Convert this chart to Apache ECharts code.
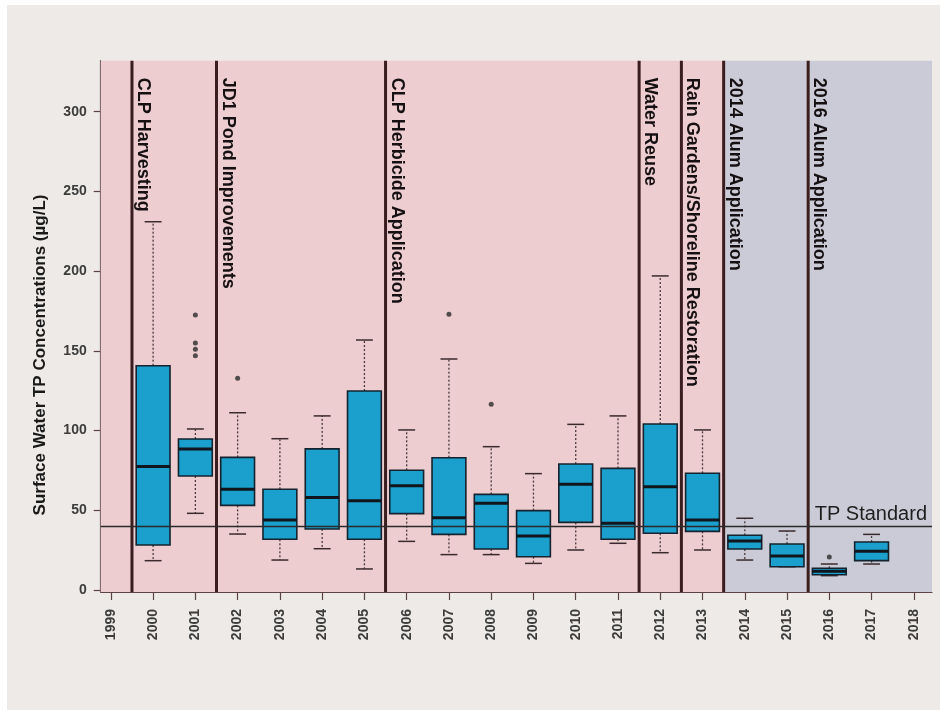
<!DOCTYPE html>
<html>
<head>
<meta charset="utf-8">
<script src="https://cdn.jsdelivr.net/npm/echarts@6/dist/echarts.min.js"></script>
<style>
html,body{margin:0;padding:0;background:#ffffff;}
#chart{width:940px;height:710px;}
</style>
</head>
<body>
<div id="chart"></div>
<script>
// ---- data ----
const tickYears = [1999,2000,2001,2002,2003,2004,2005,2006,2007,2008,2009,2010,2011,2012,2013,2014,2015,2016,2017,2018];
const yTicks = [0,50,100,150,200,250,300];
const boxYears   = [2000,2001,2002,2003,2004,2005,2006,2007,2008,2009,2010,2011,2012,2013,2014,2015,2016,2017];
const whiskerLow = [18.4,48.1,35.1,18.8,25.9,13.2,30.5,22.2,22.2,16.7,25.1,29.3,23.4,25.1,18.8,14.6,9.0,16.3];
const quart1     = [28.2,71.5,53.1,31.8,38.3,31.8,47.9,34.9,25.7,20.9,42.4,31.8,35.6,36.8,25.7,14.6,9.6,18.4];
const medians    = [77.4,88.5,63.2,43.9,58.1,56.0,65.4,45.4,54.4,33.9,66.3,41.8,64.8,43.9,30.7,21.3,11.7,24.3];
const quart3     = [140.7,94.7,83.2,63.2,88.5,124.8,75.1,83.0,60.0,49.8,79.0,76.3,104.1,73.2,34.3,28.9,13.6,30.1];
const whiskerHigh= [231,101,111.2,94.9,109.2,156.8,100.4,144.9,89.9,73.0,103.9,109.2,197,100.4,45.0,37.0,16.3,34.9];
const outlierYears = [2001,2001,2001,2001,2002,2007,2008,2016];
const outlierValues = [172.5,155,151,147,132.8,173,116.5,20.7];
const eventX = [1999.5,2001.5,2005.5,2011.5,2012.5,2013.5,2015.5];
const eventLabels = ['CLP Harvesting','JD1 Pond Improvements','CLP Herbicide Application','Water Reuse','Rain Gardens/Shoreline Restoration','2014 Alum Application','2016 Alum Application'];
const tpStandard = 40;
const phaseBreak = 2013.5;

// ---- axis extents ----
const X_MIN = 1998.76, X_MAX = 2018.43;
const Y_MIN = -1.25, Y_MAX = 332;

const FONT = '"Liberation Sans", Arial, sans-serif';
const shadeColors = ['#edcdd0', '#cacbd6'];

const boxData = boxYears.map((y,i)=>[y, whiskerLow[i], quart1[i], medians[i], quart3[i], whiskerHigh[i]]);
const outlierData = outlierYears.map((y,i)=>[y, outlierValues[i]]);
const eventData = eventX.map((x,i)=>[x, i]);
const shadeData = [[X_MIN, phaseBreak, 0],[phaseBreak, X_MAX, 1]];

function renderShade(params, api){
  const a = api.coord([api.value(0), Y_MAX]);
  const b = api.coord([api.value(1), Y_MIN]);
  return {type:'rect', shape:{x:a[0], y:a[1], width:b[0]-a[0], height:b[1]-a[1]},
    style:{fill: shadeColors[api.value(2)]}};
}

function renderEvent(params, api){
  const x = api.value(0);
  const t = api.coord([x, Y_MAX]);
  const b = api.coord([x, Y_MIN]);
  return {type:'group', children:[
    {type:'line', shape:{x1:t[0], y1:t[1], x2:b[0], y2:b[1]}, style:{stroke:'#3a1d1f', lineWidth:3}},
    {type:'text', x:t[0]+2, y:t[1]+17, rotation:-Math.PI/2,
      style:{text:eventLabels[api.value(1)], font:'bold 18px '+FONT, fill:'#161012', align:'left', verticalAlign:'bottom'}}
  ]};
}

function renderBox(params, api){
  const x = api.value(0);
  const lo = api.coord([x, api.value(1)]);
  const q1 = api.coord([x, api.value(2)]);
  const md = api.coord([x, api.value(3)]);
  const q3 = api.coord([x, api.value(4)]);
  const hi = api.coord([x, api.value(5)]);
  const band = api.size([1,0])[0];
  const hw = band*0.4, cw = band*0.2;
  const cx = q1[0];
  const whisk = {stroke:'#4a3a3c', lineWidth:1.3, lineDash:[2,2]};
  const cap = {stroke:'#3a2a2c', lineWidth:1.5};
  return {type:'group', children:[
    {type:'line', shape:{x1:cx, y1:q3[1], x2:cx, y2:hi[1]}, style:whisk},
    {type:'line', shape:{x1:cx, y1:q1[1], x2:cx, y2:lo[1]}, style:whisk},
    {type:'line', shape:{x1:cx-cw, y1:hi[1], x2:cx+cw, y2:hi[1]}, style:cap},
    {type:'line', shape:{x1:cx-cw, y1:lo[1], x2:cx+cw, y2:lo[1]}, style:cap},
    {type:'rect', shape:{x:cx-hw, y:q3[1], width:hw*2, height:q1[1]-q3[1]},
      style:{fill:'#1b9fcc', stroke:'#14232e', lineWidth:1.6}},
    {type:'line', shape:{x1:cx-hw, y1:md[1], x2:cx+hw, y2:md[1]}, style:{stroke:'#10161c', lineWidth:3}}
  ]};
}

const chart = echarts.init(document.getElementById('chart'));
chart.setOption({
  animation:false,
  backgroundColor:'#ffffff',
  graphic:[
    {type:'rect', z:-100, shape:{x:7, y:5, width:933, height:705}, style:{fill:'#edeae7'}, silent:true},
    {type:'text', x:40, y:355, rotation:Math.PI/2,
      style:{text:'Surface Water TP Concentrations (µg/L)', font:'bold 17px '+FONT, fill:'#1a1a1a', align:'center', verticalAlign:'middle'}}
  ],
  grid:{left:100.7, right:8, top:60.7, bottom:118},
  xAxis:{type:'value', min:X_MIN, max:X_MAX,
    axisLine:{show:true, onZero:false, lineStyle:{color:'#5a4446', width:1.2}},
    axisTick:{show:true, length:8, customValues:tickYears, lineStyle:{color:'#5a4446', width:1.2}},
    axisLabel:{customValues:tickYears, rotate:90, margin:17, fontSize:14, fontWeight:'bold', color:'#3c3c3c', fontFamily:FONT,
      formatter:(v)=>String(Math.round(v))},
    splitLine:{show:false}},
  yAxis:{type:'value', min:Y_MIN, max:Y_MAX,
    axisLine:{show:true, onZero:false, lineStyle:{color:'#5a4446', width:1.2}},
    axisTick:{show:true, length:7, customValues:yTicks, lineStyle:{color:'#5a4446', width:1.2}},
    axisLabel:{customValues:yTicks, margin:14, fontSize:14, fontWeight:'bold', color:'#3c3c3c', fontFamily:FONT,
      formatter:(v)=>String(Math.round(v))},
    splitLine:{show:false}},
  series:[
    {type:'custom', name:'phase', z:1, silent:true, renderItem:renderShade, data:shadeData},
    {type:'custom', name:'events', z:2, silent:true, renderItem:renderEvent, data:eventData},
    {type:'custom', name:'TP', z:3, renderItem:renderBox, data:boxData},
    {type:'scatter', name:'outliers', z:4, symbolSize:5, itemStyle:{color:'#2a2a2a'}, data:outlierData,
      markLine:{silent:true, symbol:'none', lineStyle:{color:'#2b2b2b', width:1.3, type:'solid'},
        label:{show:true, position:'insideEndTop', formatter:'TP Standard', fontSize:20, color:'#1e1e1e', fontFamily:FONT, distance:[5,2]},
        data:[{yAxis:tpStandard}]}}
  ]
});
</script>
</body>
</html>
